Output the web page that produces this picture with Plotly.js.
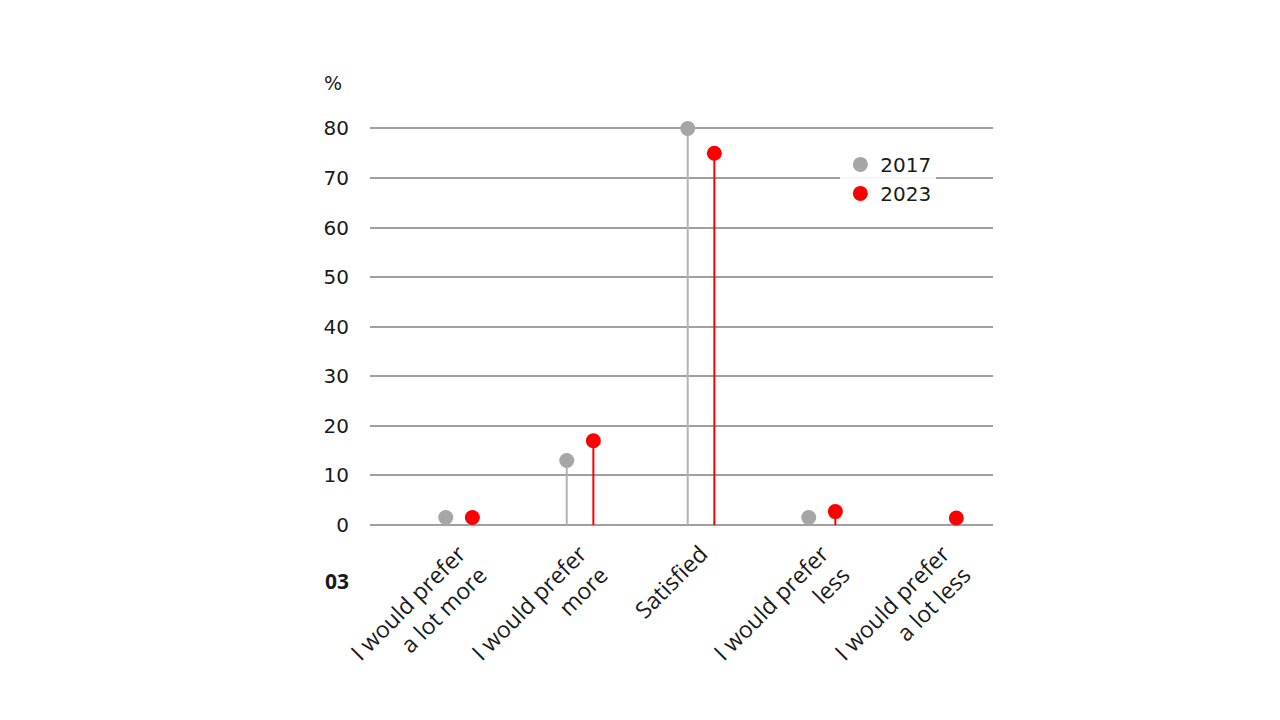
<!DOCTYPE html>
<html>
<head>
<meta charset="utf-8">
<script src="https://cdn.plot.ly/plotly-3.0.1.min.js"></script>
<style>
  html, body { margin: 0; padding: 0; background: #fff; }
  #chart { width: 1280px; height: 720px; }
</style>
</head>
<body>
<div id="chart"></div>
<script>
// answers (x labels)
const categories = [
  "I would prefer<br>a lot more",
  "I would prefer<br>more",
  "Satisfied",
  "I would prefer<br>less",
  "I would prefer<br>a lot less"
];
const years = ["2017", "2023"];
const v2017 = [1.5, 13, 80, 1.5, null];
const v2023 = [1.5, 17, 75, 2.7, 1.4];
const yTicks = [0, 10, 20, 30, 40, 50, 60, 70, 80];

const colGrey = "#a6a6a6", colRed = "#ff0000";
const off = 0.11; // half the gap between the two lollipops

const pos = (i, s) => i + s * off;

// stems: one segment per value, from 0 up to the dot
function stems(vals, s, color) {
  const x = [], y = [];
  vals.forEach((v, i) => {
    if (v == null) return;
    x.push(pos(i, s), pos(i, s), null);
    y.push(0, v, null);
  });
  return { x, y, type: "scatter", mode: "lines", line: { color, width: 2 },
           showlegend: false, hoverinfo: "skip", cliponaxis: false };
}

function dots(vals, s, color, name) {
  return {
    x: vals.map((v, i) => pos(i, s)), y: vals, name,
    type: "scatter", mode: "markers",
    marker: { color, size: 15 }, cliponaxis: false
  };
}

const traces = [
  stems(v2017, -1, "#b3b3b3"),
  stems(v2023, 1, colRed),
  dots(v2017, -1, colGrey, years[0]),
  dots(v2023, 1, colRed, years[1])
];

const layout = {
  width: 1280, height: 720,
  paper_bgcolor: "#fff", plot_bgcolor: "#fff",
  margin: { l: 370, r: 287, t: 126.5, b: 195 },
  font: { family: "DejaVu Sans, sans-serif", size: 19, color: "#1a1a1a" },
  xaxis: {
    range: [-0.736, 4.413], showgrid: false, zeroline: false, showline: false,
    tickvals: categories.map((c, i) => i), ticktext: categories,
    tickangle: -45, ticks: "", ticklabelstandoff: 10,
    tickfont: { family: "Open Sans, sans-serif", size: 23, color: "#1a1a1a" }
  },
  yaxis: {
    range: [0, 80.3], tickvals: yTicks, ticks: "",
    showgrid: true, gridcolor: "#a0a0a0", gridwidth: 2,
    zeroline: true, zerolinecolor: "#a0a0a0", zerolinewidth: 2,
    showline: false, ticklabelstandoff: 20,
    tickfont: { family: "DejaVu Sans, sans-serif", size: 20, color: "#1a1a1a" }
  },
  legend: {
    x: 0.755, y: 0.955, xanchor: "left", yanchor: "top",
    bgcolor: "rgba(255,255,255,0.9)", borderwidth: 0,
    font: { family: "DejaVu Sans, sans-serif", size: 20, color: "#1a1a1a" },
    itemwidth: 30, tracegroupgap: 4
  },
  annotations: [
    { text: "%", xref: "paper", yref: "paper", x: -0.059, y: 1.11,
      xanchor: "center", yanchor: "middle", showarrow: false,
      font: { family: "DejaVu Sans, sans-serif", size: 19 } },
    { text: "<b>03</b>", xref: "paper", yref: "paper", x: -0.053, y: -0.14,
      xanchor: "center", yanchor: "middle", showarrow: false,
      font: { family: "Open Sans, sans-serif", size: 21 } }
  ],
  showlegend: true
};

Plotly.newPlot("chart", traces, layout, { displayModeBar: false, staticPlot: true });
</script>
</body>
</html>
